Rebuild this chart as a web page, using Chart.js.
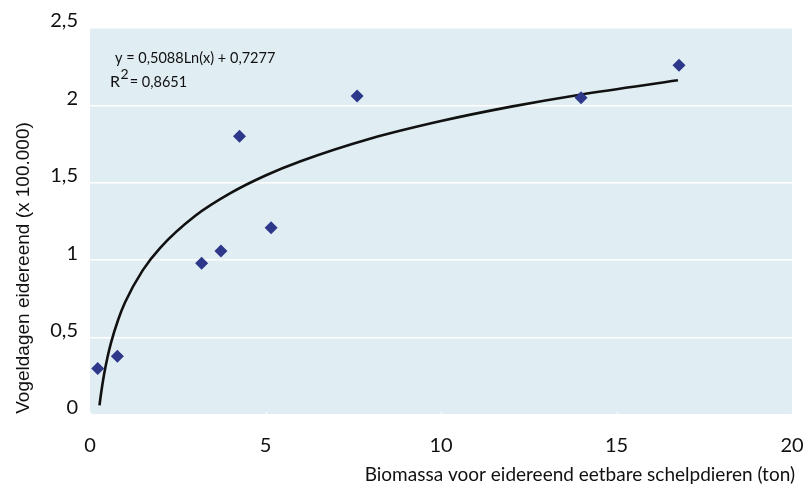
<!DOCTYPE html>
<html lang="nl">
<head>
<meta charset="utf-8">
<script src="https://cdn.jsdelivr.net/npm/chart.js"></script>
<style>
  html, body { margin: 0; padding: 0; background: #ffffff; }
  #wrap { width: 808px; height: 488px; position: relative; }
</style>
</head>
<body>
<div id="wrap"><canvas id="chart" width="808" height="488"></canvas></div>
<script>
// waarnemingen (biomassa in ton, vogeldagen x 100.000)
const biomassa   = [0.22, 0.78, 3.18, 3.73, 4.26, 5.16, 7.61, 13.99, 16.78];
const vogeldagen = [0.30, 0.38, 0.98, 1.06, 1.80, 1.21, 2.06, 2.05, 2.26];

const trendX = [0.27, 0.3, 0.4, 0.5, 0.6, 0.8, 1, 1.5, 2, 3, 4, 5, 6, 8, 10, 12, 14, 16.75];
const trendY = [0.062, 0.115, 0.261, 0.375, 0.468, 0.614, 0.728, 0.934, 1.080, 1.287, 1.433, 1.547, 1.639, 1.786, 1.899, 1.992, 2.071, 2.162];

const xTicks = [0, 5, 10, 15, 20];
const yTicks = [0, 0.5, 1, 1.5, 2, 2.5];

const formule = 'y = 0,5088Ln(x) + 0,7277';
const rKwadraat = '= 0,8651';
const xTitel = 'Biomassa voor eidereend eetbare schelpdieren (ton)';
const yTitel = 'Vogeldagen eidereend (x 100.000)';

const fmt = v => String(v).replace('.', ',');

const decor = {
  id: 'decor',
  beforeDraw(chart) {
    const { ctx, chartArea: a } = chart;
    ctx.save();
    ctx.fillStyle = '#e0edf3';
    ctx.fillRect(a.left, a.top, a.right - a.left, a.bottom - a.top);
    ctx.restore();
  },
  beforeDatasetsDraw(chart) {
    const { ctx, chartArea: a, scales } = chart;
    ctx.save();
    ctx.strokeStyle = '#ffffff';
    ctx.lineWidth = 1.5;
    xTicks.forEach(t => {
      const px = Math.round(scales.x.getPixelForValue(t)) + 0.5;
      ctx.beginPath();
      ctx.moveTo(px, a.bottom - 3);
      ctx.lineTo(px, a.bottom);
      ctx.stroke();
    });
    ctx.restore();
  },
  afterDraw(chart) {
    const { ctx } = chart;
    ctx.save();
    ctx.fillStyle = '#111';
    ctx.font = '14.5px Lato';
    ctx.textBaseline = 'alphabetic';
    ctx.fillText(formule, 115, 63);
    ctx.font = '16px Lato';
    ctx.fillText('R', 110, 87);
    let x = 110 + ctx.measureText('R').width;
    ctx.font = '14px Lato';
    ctx.fillText('2', x + 0.5, 79);
    x += ctx.measureText('2').width + 1.5;
    ctx.font = '14.5px Lato';
    ctx.fillText(rKwadraat, x, 87);

    ctx.font = '19px Lato';
    ctx.textAlign = 'right';
    ctx.fillText(xTitel, 795, 481);

    ctx.font = '19px "Liberation Sans"';
    ctx.textAlign = 'center';
    ctx.translate(29, 268);
    ctx.rotate(-Math.PI / 2);
    ctx.fillText(yTitel, 0, 0);
    ctx.restore();
  }
};

new Chart(document.getElementById('chart'), {
  type: 'scatter',
  data: {
    datasets: [
      {
        label: 'waarnemingen',
        data: biomassa.map((x, i) => ({ x, y: vogeldagen[i] })),
        pointStyle: 'rectRot',
        pointRadius: 6.5,
        backgroundColor: '#2d388a',
        borderColor: '#2d388a',
        borderWidth: 0,
        order: 1
      },
      {
        label: 'trend',
        type: 'line',
        data: trendX.map((x, i) => ({ x, y: trendY[i] })),
        borderColor: '#111111',
        borderWidth: 2.6,
        pointRadius: 0,
        fill: false,
        cubicInterpolationMode: 'monotone',
        order: 2
      }
    ]
  },
  options: {
    responsive: false,
    animation: false,
    layout: { padding: { left: 0, top: 28, right: 16, bottom: 0 } },
    plugins: { legend: { display: false }, tooltip: { enabled: false } },
    scales: {
      x: {
        type: 'linear',
        min: 0, max: 20,
        afterBuildTicks: s => { s.ticks = xTicks.map(v => ({ value: v })); },
        afterFit: s => { s.height = 73; s.paddingLeft = 0; s.paddingRight = 0; },
        grid: { display: false },
        border: { display: false },
        ticks: {
          padding: 11,
          color: '#111',
          font: { family: 'Lato', size: 20 },
          callback: v => fmt(v)
        }
      },
      y: {
        min: 0, max: 2.5,
        afterBuildTicks: s => { s.ticks = yTicks.map(v => ({ value: v })); },
        afterFit: s => { s.width = 90; s.paddingTop = 0; s.paddingBottom = 0; },
        grid: { color: '#ffffff', lineWidth: 1.5, drawTicks: false },
        border: { display: false },
        ticks: {
          padding: 12,
          labelOffset: -7,
          color: '#111',
          font: { family: 'Lato', size: 20 },
          callback: v => fmt(v)
        }
      }
    }
  },
  plugins: [decor]
});
</script>
</body>
</html>
